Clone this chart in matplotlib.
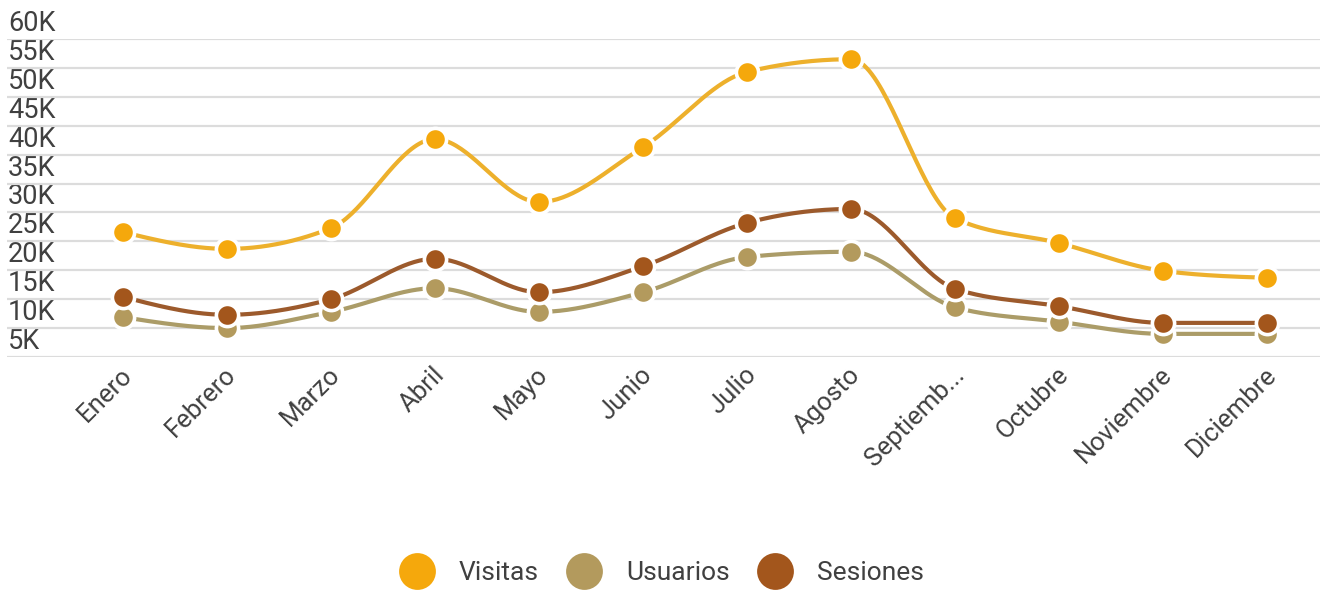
import numpy as np
import matplotlib
matplotlib.use("Agg")
import matplotlib.pyplot as plt
from matplotlib.lines import Line2D
from matplotlib.transforms import ScaledTranslation

plt.rcParams['font.family'] = ['Roboto', 'DejaVu Sans']

meses = ["Enero", "Febrero", "Marzo", "Abril", "Mayo", "Junio", "Julio",
         "Agosto", "Septiemb...", "Octubre", "Noviembre", "Diciembre"]
visitas = [26600, 23700, 27300, 42700, 31800, 41300, 54300, 56500, 29000, 24700, 19900, 18700]
usuarios = [11900, 10000, 12800, 16900, 12800, 16200, 22300, 23200, 13600, 11100, 9000, 9000]
sesiones = [15400, 12300, 15000, 22000, 16200, 20700, 28200, 30600, 16800, 13800, 10900, 10900]
y_ticks = [5000, 10000, 15000, 20000, 25000, 30000, 35000, 40000, 45000, 50000, 55000, 60000]
y_labels = ["5K", "10K", "15K", "20K", "25K", "30K", "35K", "40K", "45K", "50K", "55K", "60K"]

series = [
    ("Visitas", visitas, "#F5A80C", "#EDB02C"),
    ("Usuarios", usuarios, "#B39A5D", "#AB9C68"),
    ("Sesiones", sesiones, "#A3561C", "#9C5A2C"),
]


def monotone(y, n=40):
    """Monotone cubic (d3 curveMonotoneX style) on unit-spaced x."""
    y = np.asarray(y, dtype=float)
    m = len(y)
    s = np.diff(y)
    t = np.zeros(m)
    for i in range(1, m - 1):
        s0, s1 = s[i - 1], s[i]
        p = (s0 + s1) / 2
        t[i] = (np.sign(s0) + np.sign(s1)) * min(abs(s0), abs(s1), 0.5 * abs(p))
    t[0] = (3 * s[0] - t[1]) / 2
    t[-1] = (3 * s[-1] - t[-2]) / 2
    xs, ys = [], []
    for i in range(m - 1):
        u = np.linspace(0, 1, n, endpoint=False)
        h00 = 2 * u ** 3 - 3 * u ** 2 + 1
        h10 = u ** 3 - 2 * u ** 2 + u
        h01 = -2 * u ** 3 + 3 * u ** 2
        h11 = u ** 3 - u ** 2
        xs.append(i + u)
        ys.append(h00 * y[i] + h10 * t[i] + h01 * y[i + 1] + h11 * t[i + 1])
    xs.append([m - 1])
    ys.append([y[-1]])
    return np.concatenate(xs), np.concatenate(ys)


fig = plt.figure(figsize=(13.24, 5.92), dpi=100)
ax = fig.add_axes([7 / 1324, 1 - 357 / 592, (1320 - 7) / 1324, (357 - 39) / 592])

x = np.arange(len(meses))
for z, (name, vals, dot, line) in enumerate(series):
    sx, sy = monotone(vals)
    ax.plot(sx, sy, color=line, lw=3.0, solid_capstyle='round', zorder=3 + 2 * z)
    ax.plot(x, vals, linestyle='none', marker='o', markersize=16, markerfacecolor=dot,
            markeredgecolor='white', markeredgewidth=2.6, zorder=4 + 2 * z)

ax.set_xlim(-(123 - 7) / 104, 11 + (1320 - 1267) / 104)
ax.set_ylim(5000, 60000)
ax.set_yticks(y_ticks)
ax.set_yticklabels(y_labels)
ax.set_xticks(x)
ax.set_xticklabels(meses)

for s in ax.spines.values():
    s.set_visible(False)
ax.grid(axis='y', color='#DCDCDC', lw=1.6, zorder=0)
ax.tick_params(axis='both', length=0)
ax.tick_params(axis='y', pad=0, labelsize=19.5, labelcolor='#404040')
ax.tick_params(axis='x', pad=4, labelsize=18.5, labelcolor='#404040')

for lab in ax.get_yticklabels():
    lab.set_horizontalalignment('left')
    lab.set_verticalalignment('baseline')
    lab.set_transform(lab.get_transform() + ScaledTranslation(1 / 100, 8 / 100, fig.dpi_scale_trans))

for lab in ax.get_xticklabels():
    lab.set_rotation(45)
    lab.set_horizontalalignment('right')
    lab.set_verticalalignment('top')
    lab.set_transform(lab.get_transform() + ScaledTranslation(14 / 100, 0, fig.dpi_scale_trans))

handles = [Line2D([], [], linestyle='none', marker='o', markersize=26.5,
                  markerfacecolor=dot, markeredgecolor='none', label=name)
           for name, vals, dot, line in series]
leg = fig.legend(handles=handles, loc='center', bbox_to_anchor=(661 / 1324, 1 - 573 / 592),
                 ncol=3, frameon=False, fontsize=19, handlelength=1.4, handletextpad=0.9,
                 columnspacing=1.0, borderpad=0, borderaxespad=0)
for t in leg.get_texts():
    t.set_color('#404040')

fig.savefig("out.png", dpi=100)
